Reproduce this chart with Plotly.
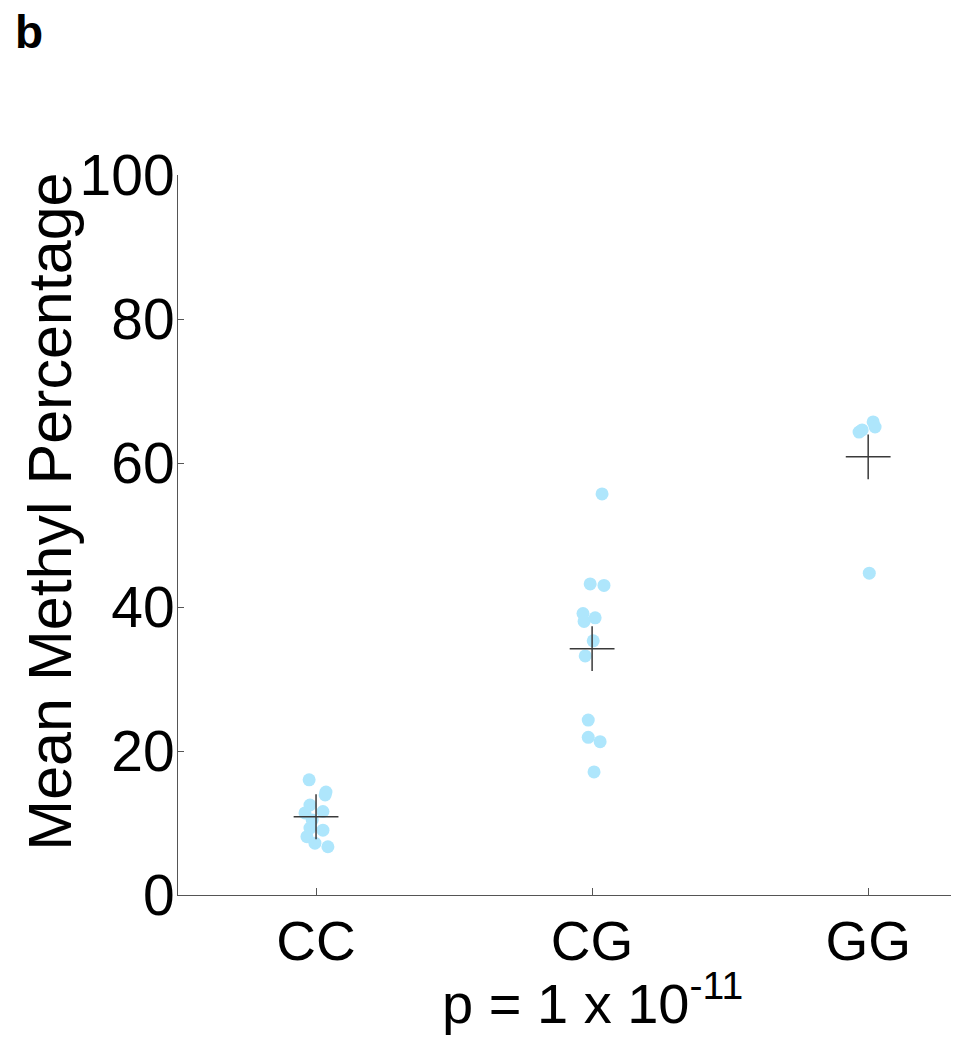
import numpy as np
import plotly.graph_objects as go

# Genotype groups and per-sample mean methylation (%)
genotypes = ["CC", "CG", "GG"]
cc_values = [16.0, 14.3, 13.9, 12.5, 11.4, 11.6, 10.4, 9.3, 9.0, 8.1, 7.2, 6.7]
cg_values = [55.7, 43.2, 43.0, 39.1, 38.0, 38.5, 35.3, 33.2, 24.3, 21.9, 21.3, 17.1]
gg_values = [64.6, 64.3, 65.7, 65.0, 44.7]

# Horizontal jitter (category units) so overlapping samples stay visible
cc_jitter = [-0.025, 0.036, 0.033, -0.022, -0.040, 0.025, -0.014, -0.022, 0.025, -0.033, -0.004, 0.043]
cg_jitter = [0.036, -0.007, 0.043, -0.033, -0.029, 0.011, 0.004, -0.025, -0.014, -0.014, 0.029, 0.007]
gg_jitter = [-0.022, -0.033, 0.018, 0.025, 0.004]

y_ticks = [0, 20, 40, 60, 80, 100]
p_label = "p = 1 x 10<sup>-11</sup>"

groups = [cc_values, cg_values, gg_values]
jitters = [cc_jitter, cg_jitter, gg_jitter]

FONT = "Liberation Sans, Arial, sans-serif"

fig = go.Figure()

for i, (vals, jit) in enumerate(zip(groups, jitters)):
    fig.add_trace(go.Scatter(
        x=[i + 1 + j for j in jit],
        y=vals,
        mode="markers",
        marker=dict(size=13, color="#aee6fc", line=dict(width=0)),
        showlegend=False,
        hoverinfo="y",
    ))

# Group means drawn as thin crosses
means = [float(np.mean(v)) for v in groups]
fig.add_trace(go.Scatter(
    x=[1, 2, 3],
    y=means,
    mode="markers",
    marker=dict(symbol="cross-thin", size=32, color="#3a3a3a",
                line=dict(width=1.5, color="#3a3a3a")),
    showlegend=False,
    hoverinfo="y",
))

fig.update_layout(
    width=961,
    height=1038,
    paper_bgcolor="white",
    plot_bgcolor="white",
    margin=dict(l=178, r=10, t=175, b=143),
    font=dict(family=FONT, color="black"),
    xaxis=dict(
        range=[0.5, 3.3],
        tickmode="array",
        tickvals=[1, 2, 3],
        ticktext=genotypes,
        tickfont=dict(size=55, family=FONT),
        ticks="inside",
        ticklen=7,
        tickcolor="#555555",
        showline=True,
        linecolor="#555555",
        linewidth=1,
        showgrid=False,
        zeroline=False,
        ticklabelstandoff=-2,
    ),
    yaxis=dict(
        range=[0, 100],
        tickmode="array",
        tickvals=y_ticks,
        tickfont=dict(size=57, family=FONT),
        ticks="inside",
        ticklen=6,
        tickcolor="#555555",
        showline=True,
        linecolor="#555555",
        linewidth=1,
        showgrid=False,
        zeroline=False,
        ticklabelstandoff=-9,
    ),
    annotations=[
        dict(text="Mean Methyl Percentage", textangle=-90,
             xref="paper", yref="paper", x=-0.166, y=0.532,
             xanchor="center", yanchor="middle", showarrow=False,
             font=dict(size=61, family=FONT, color="black")),
        dict(text="<b>b</b>", xref="paper", yref="paper",
             x=-0.2135, y=1.238, xanchor="left", yanchor="top",
             showarrow=False, font=dict(size=46, family=FONT, color="black")),
        dict(text=p_label, xref="x", yref="paper",
             x=2, y=-0.197, xanchor="center", yanchor="bottom",
             showarrow=False, font=dict(size=56, family=FONT, color="black")),
    ],
)

fig.write_html("out.html")
